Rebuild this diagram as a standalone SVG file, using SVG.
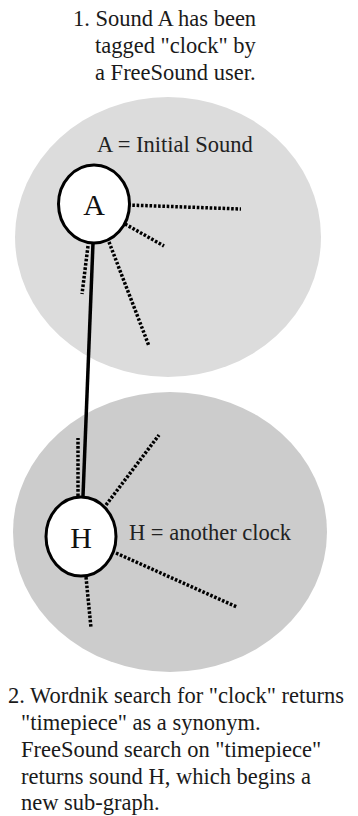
<svg xmlns="http://www.w3.org/2000/svg" width="358" height="816" viewBox="0 0 358 816">
<style>
text{font-family:"Liberation Serif","Times New Roman",serif;fill:#1a1a1a}
.cap{font-size:22.5px}
.lbl{font-size:22.5px;fill:#222}
.nl{font-size:30px;text-anchor:middle;fill:#111}
.node{fill:#fff;stroke:#000;stroke-width:3}
.dot{stroke:#000;stroke-width:3.5;stroke-dasharray:2.6 1.7;fill:none}
.edge{stroke:#000;stroke-width:3.5;fill:none}
</style>
<rect width="358" height="816" fill="#fff"/>
<g id="caption1">
<text class="cap" x="73" y="26">1. Sound A has been</text>
<text class="cap" x="95" y="53">tagged "clock" by</text>
<text class="cap" x="95" y="80">a FreeSound user.</text>
</g>
<g id="subgraph1">
<ellipse cx="168" cy="237" rx="153" ry="140" fill="#dcdcdc"/>
<text class="lbl" x="97" y="152">A = Initial Sound</text>
</g>
<g id="subgraph2">
<ellipse cx="170" cy="532" rx="157" ry="140" fill="#cccccc"/>
<text class="lbl" x="129" y="540">H = another clock</text>
</g>
<g id="connectors">
<line class="dot" x1="128" y1="205" x2="241" y2="209"/>
<line class="dot" x1="125" y1="224" x2="164" y2="246"/>
<line class="dot" x1="109" y1="242" x2="149" y2="346"/>
<line class="dot" x1="88" y1="246" x2="82" y2="294"/>
<line class="dot" x1="78" y1="496" x2="78" y2="438"/>
<line class="dot" x1="106" y1="505" x2="159" y2="435"/>
<line class="dot" x1="116" y1="553" x2="237" y2="607"/>
<line class="dot" x1="86" y1="577" x2="91" y2="628"/>
<line class="edge" x1="93" y1="243" x2="83" y2="496"/>
</g>
<g id="node-A">
<ellipse class="node" cx="94" cy="204" rx="35.5" ry="39"/>
<text class="nl" x="94" y="215">A</text>
</g>
<g id="node-H">
<ellipse class="node" cx="81" cy="536.5" rx="35" ry="39.5"/>
<text class="nl" x="81" y="548">H</text>
</g>
<g id="caption2">
<text class="cap" x="8" y="703">2. Wordnik search for "clock" returns</text>
<text class="cap" x="21" y="730">"timepiece" as a synonym.</text>
<text class="cap" x="21" y="757">FreeSound search on "timepiece"</text>
<text class="cap" x="21" y="784">returns sound H, which begins a</text>
<text class="cap" x="21" y="810">new sub-graph.</text>
</g>
</svg>
